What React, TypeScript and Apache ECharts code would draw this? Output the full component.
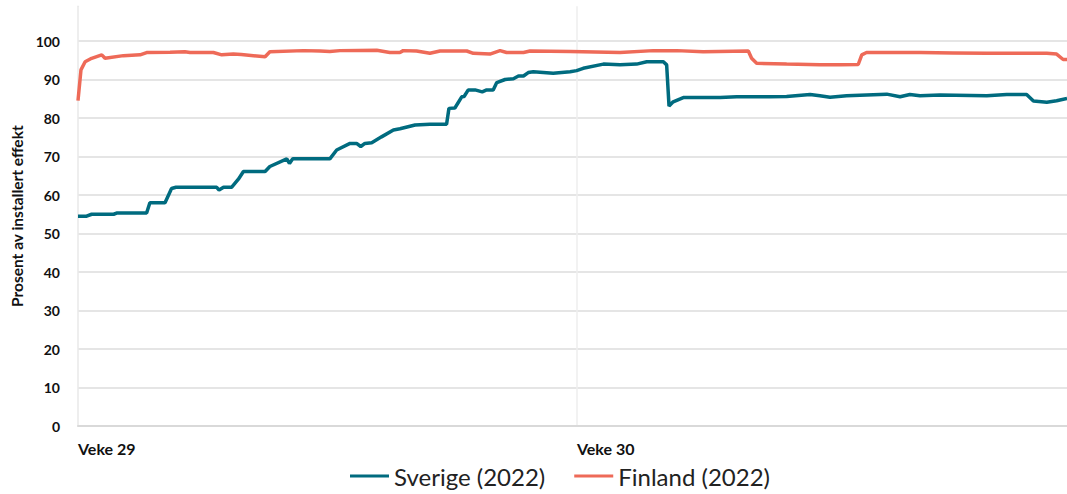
import React, { useEffect, useRef } from "react";
import * as echarts from "echarts";

const weekLabels: Record<number, string> = { 0: "Veke 29", 168: "Veke 30" };
const yTicks = [0, 10, 20, 30, 40, 50, 60, 70, 80, 90, 100];

// [hour since start of week 29, percent of installed capacity]
const sverige: [number, number][] = [
  [0, 54.5], [2.9, 54.5], [4.6, 55.0], [12, 55.0], [13, 55.3], [23.1, 55.3],
  [24.2, 58.0], [29.3, 58.0], [31.5, 61.7], [33, 62.0], [46.7, 62.0], [47.5, 61.3],
  [49, 62.0], [51.7, 62.0], [54, 64.1], [55.7, 66.1], [63, 66.1], [64.6, 67.4],
  [70.3, 69.4], [71.2, 68.2], [72.3, 69.4], [84.8, 69.4], [87.1, 71.7], [91.6, 73.4],
  [93.8, 73.4], [95.2, 72.6], [96.6, 73.4], [98.9, 73.6], [102.2, 75.1], [106.2, 76.9],
  [108.4, 77.2], [113.5, 78.2], [118.5, 78.4], [124.1, 78.4], [124.9, 82.5], [126.9, 82.6],
  [129.2, 85.5], [130, 85.6], [131.4, 87.3], [133.7, 87.3], [136.1, 86.8], [137.6, 87.3],
  [139.8, 87.3], [141, 89.2], [143.8, 90.0], [146.6, 90.2], [148.3, 90.9], [150, 90.9],
  [151.6, 91.8], [153.3, 92.0], [160, 91.6], [165.7, 92.0], [167.9, 92.3], [170.1, 92.9],
  [176.9, 94.0], [182.5, 93.8], [188.1, 94.0], [191.5, 94.6], [197.1, 94.6], [198.2, 93.8],
  [199, 83.1], [200.4, 84.2], [203.8, 85.3], [216.2, 85.3], [221.8, 85.5], [233, 85.5],
  [238.6, 85.6], [246.5, 86.1], [249.8, 85.8], [253.2, 85.4], [258.8, 85.8], [272.3, 86.2],
  [276.8, 85.5], [280.1, 86.1], [283.5, 85.8], [290.2, 86.0], [306, 85.8], [312.7, 86.1],
  [319.4, 86.1], [321.7, 84.4], [326.2, 84.1], [329.5, 84.5], [333, 85.1],
];

const finland: [number, number][] = [
  [0, 84.5], [1, 92.5], [2.4, 94.6], [4.6, 95.5], [8, 96.4], [9.1, 95.5],
  [15.3, 96.2], [20.9, 96.4], [23.1, 97.0], [31, 97.1], [36, 97.2], [37.7, 97.0],
  [45.6, 97.0], [48.4, 96.4], [52.3, 96.6], [55, 96.5], [63, 95.9], [64.6, 97.2],
  [75.9, 97.5], [81.5, 97.4], [84.8, 97.3], [88.2, 97.5], [100.6, 97.6], [105, 97.0],
  [108.4, 97.0], [109.5, 97.5], [114, 97.4], [118.5, 96.8], [121.9, 97.4], [130.9, 97.4],
  [133.1, 96.8], [138.7, 96.6], [142.1, 97.5], [144.3, 97.0], [150, 97.0], [152.2, 97.4],
  [165.7, 97.3], [182.5, 97.0], [193.7, 97.5], [201.6, 97.5], [210.5, 97.2], [225.7, 97.4],
  [226.8, 95.5], [228.5, 94.2], [238.6, 94.0], [249.8, 93.8], [256.6, 93.8], [262.7, 93.9],
  [263.9, 96.4], [265.5, 97.0], [283.5, 97.0], [294.7, 96.9], [306, 96.8], [326.2, 96.8],
  [329.5, 96.6], [331.7, 95.2], [333, 95.2],
];

const FONT = "Lato";

export default function App() {
  const ref = useRef<HTMLDivElement>(null);
  useEffect(() => {
    if (!ref.current) return;
    const chart = echarts.init(ref.current, undefined, { renderer: "svg" });
    chart.setOption({
      animation: false,
      textStyle: { fontFamily: FONT },
      grid: { left: 78, right: 0, top: 41 - 9 * 3.85, bottom: 68, containLabel: false },
      legend: {
        left: 345,
        top: 459,
        icon: "rect",
        itemWidth: 39,
        itemHeight: 3,
        itemGap: 29,
        textStyle: { fontSize: 24, color: "#222", fontFamily: FONT },
        data: ["Sverige (2022)", "Finland (2022)"],
      },
      xAxis: {
        type: "value",
        min: 0,
        max: 333,
        interval: 168,
        axisLine: { show: true, lineStyle: { color: "#d9d9d9", width: 2 } },
        axisTick: { show: false },
        axisLabel: {
          align: "left",
          margin: 14,
          fontSize: 16,
          fontWeight: "bold",
          color: "#111",
          showMaxLabel: false,
          formatter: (v: number) => weekLabels[v] ?? "",
        },
        splitLine: { show: true, showMinLine: false, showMaxLine: false, lineStyle: { color: "#eeeeee", width: 1.5 } },
      },
      yAxis: {
        type: "value",
        min: 0,
        max: 109,
        interval: 10,
        name: "Prosent av installert effekt",
        nameLocation: "middle",
        nameRotate: 90,
        nameGap: 52,
        nameTextStyle: { fontSize: 15.5, fontWeight: "bold", color: "#111", fontFamily: FONT },
        axisLine: { show: true, lineStyle: { color: "#e8e8e8", width: 1.5 } },
        axisTick: { show: false },
        axisLabel: {
          margin: 18,
          fontSize: 14,
          fontWeight: "bold",
          color: "#111",
          showMaxLabel: false,
          formatter: (v: number) => (yTicks.includes(v) ? String(v) : ""),
        },
        splitLine: { show: true, showMinLine: false, showMaxLine: false, lineStyle: { color: "#dcdcdc", width: 1.5 } },
      },
      series: [
        {
          name: "Sverige (2022)",
          type: "line",
          data: sverige,
          showSymbol: false,
          itemStyle: { color: "#006B7F" },
          lineStyle: { color: "#006B7F", width: 3.5 },
        },
        {
          name: "Finland (2022)",
          type: "line",
          data: finland,
          showSymbol: false,
          itemStyle: { color: "#EE6A58" },
          lineStyle: { color: "#EE6A58", width: 3.5 },
        },
      ],
    });
    return () => chart.dispose();
  }, []);
  return (
    <div
      ref={ref}
      style={{ position: "fixed", left: 0, top: 0, width: 1067, height: 494, background: "#fff" }}
    />
  );
}
